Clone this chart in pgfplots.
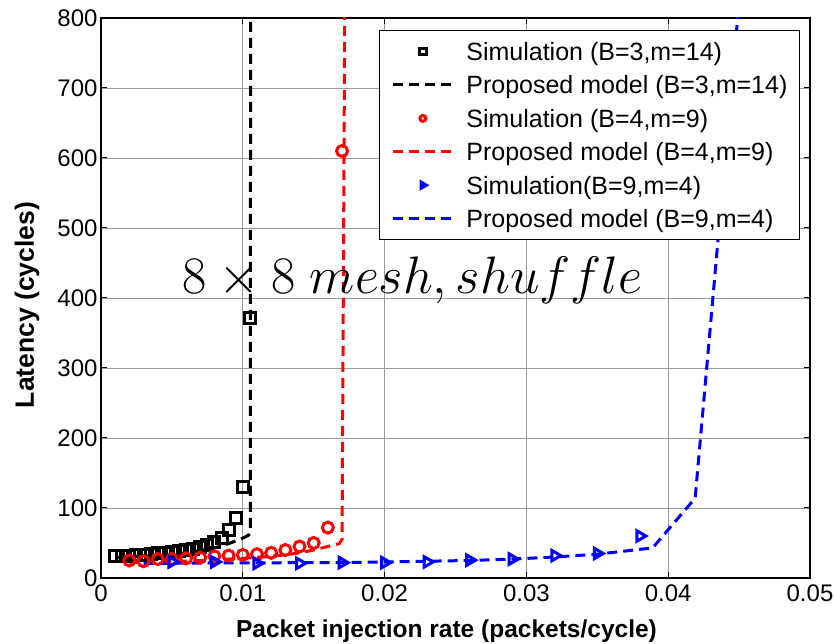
\documentclass[border=0pt]{standalone}
\usepackage{fontspec}
\setmainfont{Liberation Sans}
\usepackage{pgfplots}
\usepackage{pgfplotstable}
\pgfplotsset{compat=1.18}

% Simulation and model latencies, 8x8 mesh, shuffle traffic
\pgfplotstableread{
x y
0.0010 32
0.0015 32
0.0020 32
0.0025 33
0.0030 33
0.0035 34
0.0040 35
0.0045 36
0.0050 37
0.0055 38
0.0060 40
0.0065 42
0.0070 44
0.0075 47
0.0080 51
0.0085 57
0.0090 68
0.0095 86
0.0100 130
0.0105 371
}\simA
\pgfplotstableread{
x y
0.0010 29
0.0020 30
0.0030 31
0.0040 32
0.0050 34
0.0060 36
0.0070 39
0.0080 43
0.0090 49
0.0095 53
0.0100 57
0.0104 61
0.01053 66
0.01055 850
}\modA
\pgfplotstableread{
x y
0.002 25
0.003 24
0.004 27
0.005 27
0.006 28
0.007 29
0.008 31
0.009 32
0.010 33
0.011 34
0.012 36
0.013 40
0.014 45
0.015 50
0.016 72
0.017 610
}\simB
\pgfplotstableread{
x y
0.002 22
0.003 22.5
0.004 23
0.005 23.5
0.006 24
0.007 25
0.008 26
0.009 27
0.010 28
0.011 29.5
0.012 31
0.013 33
0.014 36
0.015 40
0.016 45
0.0168 49
0.0170 55
0.0172 850
}\modB
\pgfplotstableread{
x y
0.005 23
0.008 23
0.011 21
0.014 21
0.017 22
0.020 22
0.023 23
0.026 25.5
0.029 27
0.032 32
0.035 35
0.038 60
}\simC
\pgfplotstableread{
x y
0.003 21
0.005 21
0.008 21.5
0.011 21.5
0.014 22
0.017 22
0.020 23
0.023 24
0.026 25
0.029 27
0.032 30
0.035 34
0.0389 43
0.0419 114
0.0452 869
}\modC

\begin{document}
\begin{tikzpicture}
\begin{axis}[
  scale only axis,
  width=709pt, height=560pt,
  xmin=0, xmax=0.05, ymin=0, ymax=800,
  xtick={0,0.01,0.02,0.03,0.04,0.05},
  ytick={0,100,200,300,400,500,600,700,800},
  scaled x ticks=false,
  /pgf/number format/assume math mode=true,
  xticklabel style={/pgf/number format/.cd, fixed, precision=2, /tikz/yshift=-3pt},
  tick label style={font=\fontsize{24}{28}\selectfont},
  tick align=inside,
  major tick length=6pt,
  tick style={black, line width=1pt},
  grid=major,
  major grid style={black!40, line width=0.7pt},
  axis line style={line width=1.8pt},
  xlabel={Packet injection rate (packets/cycle)},
  ylabel={Latency (cycles)},
  every axis x label/.style={at={(axis description cs:0.4873,-0.0946)}, anchor=center,
    font=\bfseries\fontsize{24.5}{28}\selectfont},
  every axis y label/.style={at={(axis description cs:-0.1044,0.4875)}, rotate=90, anchor=center,
    font=\bfseries\fontsize{26.5}{30}\selectfont},
  legend cell align=left,
  legend image code/.code={\draw[mark repeat=2,mark phase=2,#1]
    plot coordinates {(0pt,0pt) (30pt,0pt) (60pt,0pt)};},
  legend style={at={(axis description cs:1,1)}, anchor=north east,
    xshift=-10pt, yshift=-12pt, draw=black, line width=1.2pt, fill=white,
    inner xsep=12pt, inner ysep=12pt, row sep=15.4pt,
    font=\fontsize{25}{30}\selectfont,
    nodes={inner sep=0pt, text height=18pt, text depth=0pt},
    /tikz/every odd column/.append style={column sep=12pt}},
]
\addplot[only marks, mark=square, mark size=5.5pt, mark options={line width=3pt, solid}, black,
  legend image post style={mark size=3.2pt}] table {\simA};
\addlegendentry{Simulation (B=3,m=14)}
\addplot[black, line width=3pt, dash pattern=on 10pt off 6pt] table {\modA};
\addlegendentry{Proposed model (B=3,m=14)}
\addplot[only marks, mark=o, mark size=5.5pt, mark options={line width=3pt, solid}, red,
  legend image post style={mark size=3pt}] table {\simB};
\addlegendentry{Simulation (B=4,m=9)}
\addplot[red, line width=3pt, dash pattern=on 10pt off 6pt] table {\modB};
\addlegendentry{Proposed model (B=4,m=9)}
\addplot[only marks, mark=triangle, mark size=6pt, mark options={line width=3pt, solid, rotate=-90}, blue,
  legend image post style={mark size=3.5pt}] table {\simC};
\addlegendentry{Simulation(B=9,m=4)}
\addplot[blue, line width=3pt, dash pattern=on 10pt off 6pt] table {\modC};
\addlegendentry{Proposed model (B=9,m=4)}
\node[anchor=base west, inner sep=0pt, scale=2.12, font=\fontsize{24.88}{30}\selectfont]
  at (axis description cs:0.1142,0.5089) {$8\times 8\ mesh, shuffle$};
\end{axis}
\pgfresetboundingbox
\path (-101pt,-66pt) rectangle (734pt,578pt);
\end{tikzpicture}
\end{document}
